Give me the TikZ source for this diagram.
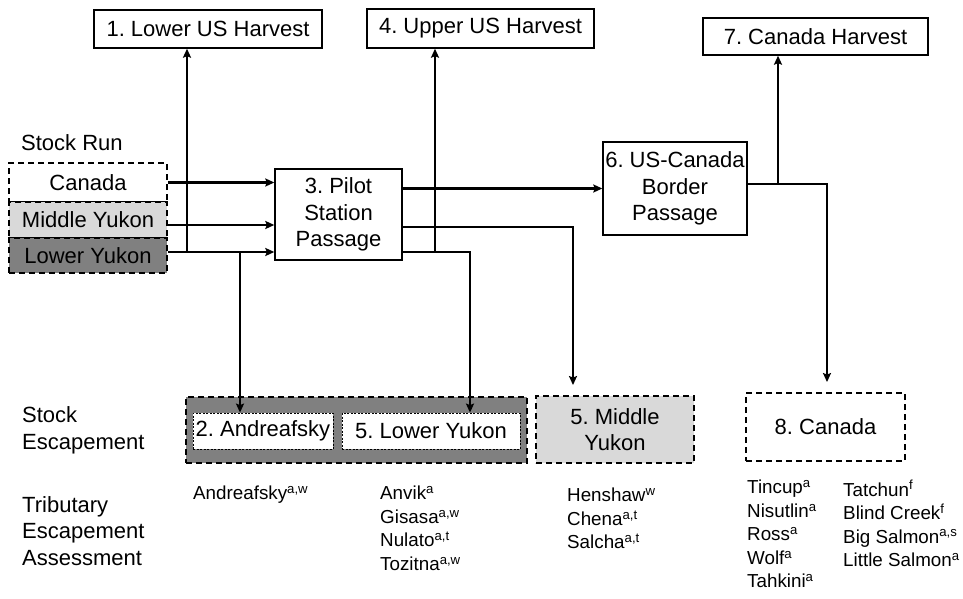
\documentclass[tikz,border=0pt]{standalone}
\usepackage{fontspec}
\setmainfont{Liberation Sans}
\usetikzlibrary{arrows.meta}
\definecolor{grigioscuro}{RGB}{128,128,128}
\definecolor{grigiochiaro}{RGB}{217,217,217}
\frenchspacing

\begin{document}
\begin{tikzpicture}[x=1pt, y=-1pt, >={Stealth[length=9pt, width=8pt, inset=1.5pt]}]
        \useasboundingbox (0,0) rectangle (963,599);

        % Stili per riquadri, elenchi e frecce
        \tikzset{
            grande/.style={font=\fontsize{22}{26.5}\selectfont},
            elenco/.style={font=\fontsize{18.8}{23.5}\selectfont, align=left, inner sep=0pt},
            scatola/.style={grande, draw, line width=1.4pt, align=center, inner sep=0pt},
            tratteggio/.style={grande, draw, line width=1.9pt, dash pattern=on 6pt off 4pt, align=center, inner sep=0pt},
            sottile/.style={grande, draw, fill=white, line width=0.8pt, dash pattern=on 2pt off 1.5pt, inner sep=0pt},
            freccia/.style={->, line width=2.8pt},
        }

        % Prelievi (harvest) in alto
        \node[scatola, minimum width=228pt, minimum height=38pt] (h1) at (208,29) {1. Lower US Harvest};
        \node[scatola, minimum width=227pt, minimum height=39pt] (h4) at (480.5,28.5) {4. Upper US Harvest};
        \node[scatola, minimum width=225pt, minimum height=37pt] (h7) at (815.5,36.5) {7. Canada Harvest};

        % Corsa per stock
        \node[grande, anchor=west, inner sep=0pt] (run) at (21,143) {Stock Run};
        \node[tratteggio, minimum width=158pt, minimum height=39pt] (rcan) at (88,182.5) {Canada};
        \node[tratteggio, fill=grigiochiaro, minimum width=158pt, minimum height=36pt] (rmid) at (88,220) {Middle Yukon};
        \node[tratteggio, fill=grigioscuro, minimum width=158pt, minimum height=35pt] (rlow) at (88,255.5) {Lower Yukon};

        % Passaggi
        \node[scatola, minimum width=127pt, minimum height=91pt] (p3) at (338.5,214.5) {3. Pilot\\Station\\Passage};
        \node[scatola, minimum width=144pt, minimum height=93pt] (p6) at (675,188.5) {6. US-Canada\\Border\\Passage};

        % Fuga (escapement) per stock
        \node[tratteggio, fill=grigioscuro, minimum width=341pt, minimum height=66pt] (glow) at (356.5,430) {};
        \node[sottile, minimum width=140pt, minimum height=36pt] (e2) at (263,431) {2. Andreafsky};
        \node[sottile, minimum width=178pt, minimum height=36pt] (e5) at (431,431) {5. Lower Yukon};
        \node[tratteggio, fill=grigiochiaro, minimum width=158pt, minimum height=67pt] (e5m) at (615,429.5) {5. Middle\\Yukon};
        \node[tratteggio, minimum width=159pt, minimum height=68pt] (e8) at (825.5,427) {8. Canada};

        % Etichette a sinistra
        \node[grande, anchor=west, align=left, inner sep=0pt] (esc) at (22,430.5) {Stock\\Escapement};
        \node[grande, anchor=west, align=left, inner sep=0pt] (trib) at (22,531) {Tributary\\Escapement\\Assessment};

        % Affluenti valutati
        \node[elenco, anchor=north west] (tand) at (193,486) {Andreafsky\textsuperscript{a,w}};
        \node[elenco, anchor=north west] (tlow) at (380,486) {Anvik\textsuperscript{a}\\Gisasa\textsuperscript{a,w}\\Nulato\textsuperscript{a,t}\\Tozitna\textsuperscript{a,w}};
        \node[elenco, anchor=north west] (tmid) at (567,488) {Henshaw\textsuperscript{w}\\Chena\textsuperscript{a,t}\\Salcha\textsuperscript{a,t}};
        \node[elenco, anchor=north west] (tcan) at (747,480) {Tincup\textsuperscript{a}\\Nisutlin\textsuperscript{a}\\Ross\textsuperscript{a}\\Wolf\textsuperscript{a}\\Tahkini\textsuperscript{a}};
        \node[elenco, anchor=north west] (tcan2) at (843,480) {Tatchun\textsuperscript{f}\\Blind Creek\textsuperscript{f}\\Big Salmon\textsuperscript{a,s}\\Little Salmon\textsuperscript{a}};

        % Punti di diramazione
        \coordinate (jl) at (187,252);
        \coordinate (ja) at (240,252);
        \coordinate (ju) at (435,252);
        \coordinate (jw) at (470,252);
        \coordinate (jm) at (573,227);
        \coordinate (jc) at (778,184);
        \coordinate (jb) at (827,184);

        % Frecce dalla corsa a Pilot Station
        \draw[freccia] (rcan.east) -- (rcan.east -| p3.west);
        \draw[freccia] ([yshift=-5pt]rmid.east) -- ([yshift=-5pt]rmid.east -| p3.west);
        \draw[freccia] ([yshift=3.5pt]rlow.east) -- ([yshift=3.5pt]rlow.east -| p3.west);
        \draw[freccia] (jl) -- (jl |- h1.south);
        \draw[freccia] (ja) -- (ja |- e2.north);

        % Frecce da Pilot Station
        \draw[freccia] (p3.east |- p6.west) -- (p6.west);
        \draw[freccia, shorten >=10pt] (p3.east |- jm) -- (jm) -- (jm |- e5m.north);
        \draw[freccia] (p3.east |- jw) -- (jw) -- (jw |- e5.north);
        \draw[freccia] (ju) -- (ju |- h4.south);

        % Frecce dal confine
        \draw[freccia, shorten >=10pt] (p6.east |- jb) -- (jb) -- (jb |- e8.north);
        \draw[freccia] (jc) -- (jc |- h7.south);

    \end{tikzpicture}
\end{document}
